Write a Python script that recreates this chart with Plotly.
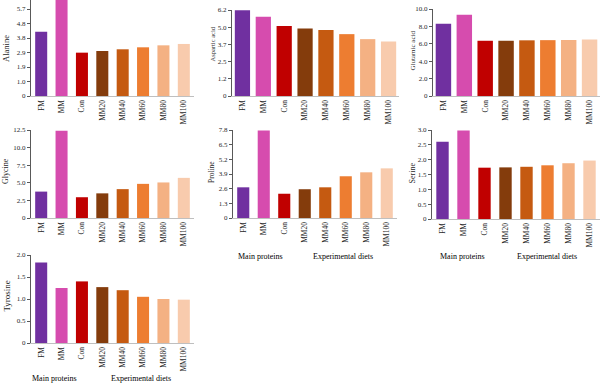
import plotly.graph_objects as go

categories = ["FM", "MM", "Con", "MM20", "MM40", "MM60", "MM80", "MM100"]
bar_colors = ["#7030A0", "#D64CAE", "#C00000", "#843C0C", "#C55A11", "#ED7D31", "#F4B183", "#F8CBAD"]

alanine = [4.21, 6.6, 2.84, 2.95, 3.06, 3.19, 3.32, 3.41]
aspartic = [6.18, 5.72, 5.05, 4.86, 4.76, 4.46, 4.1, 3.93]
glutamic = [8.3, 9.35, 6.35, 6.35, 6.4, 6.42, 6.45, 6.5]
glycine = [3.75, 12.4, 2.95, 3.5, 4.1, 4.85, 5.05, 5.7]
proline = [2.72, 7.75, 2.15, 2.55, 2.72, 3.7, 4.05, 4.4]
serine = [2.6, 2.98, 1.73, 1.74, 1.76, 1.81, 1.88, 1.97]
tyrosine = [1.83, 1.25, 1.4, 1.27, 1.2, 1.05, 1.0, 0.985]

names = ["Alanine", "Aspartic acid", "Glutamic acid", "Glycine", "Proline", "Serine", "Tyrosine"]
series = [alanine, aspartic, glutamic, glycine, proline, serine, tyrosine]

ala_ticks = [0, 0.95, 1.9, 2.85, 3.8, 4.75, 5.7]
ala_text = ["0", "1.0", "1.9", "2.9", "3.8", "4.8", "5.7"]
asp_ticks = [0, 1.24, 2.48, 3.72, 4.96, 6.2]
asp_text = ["0", "1.2", "2.5", "3.7", "5.0", "6.2"]
glu_ticks = [0, 2, 4, 6, 8, 10]
glu_text = ["0", "2.0", "4.0", "6.0", "8.0", "10.0"]
gly_ticks = [0, 2.5, 5, 7.5, 10, 12.5]
gly_text = ["0", "2.5", "5.0", "7.5", "10.0", "12.5"]
pro_ticks = [0, 1.3, 2.6, 3.9, 5.2, 6.5, 7.8]
pro_text = ["0", "1.3", "2.6", "3.9", "5.2", "6.5", "7.8"]
ser_ticks = [0, 0.5, 1.0, 1.5, 2.0, 2.5, 3.0]
ser_text = ["0", "0.5", "1.0", "1.5", "2.0", "2.5", "3.0"]
tyr_ticks = [0, 0.5, 1.0, 1.5, 2.0]
tyr_text = ["0", "0.5", "1.0", "1.5", "2.0"]

group_names = ["Main proteins", "Experimental diets"]

W, H = 600, 384
FONT = "Liberation Serif"
TXT = "#1f1f1f"

def fx(px):
    return px / W

def fy(py):
    return 1 - py / H

# panel geometry in pixels: (x0, x1, y_zero, y_top, range_max, bargap, ticks)
panels = [
    (31, 194, 96, 0, 6.29, 0.41, ala_ticks, ala_text),
    (232, 399, 96, 10, 6.2, 0.27, asp_ticks, asp_text),
    (433, 600, 96, 9, 10.0, 0.26, glu_ticks, glu_text),
    (31, 194, 218, 130, 12.5, 0.41, gly_ticks, gly_text),
    (233, 397, 218, 130, 7.8, 0.41, pro_ticks, pro_text),
    (432, 600, 219, 130, 3.0, 0.41, ser_ticks, ser_text),
    (31, 194, 343, 255, 2.0, 0.41, tyr_ticks, tyr_text),
]

fig = go.Figure()
layout = dict(
    template="none",
    width=W, height=H, margin=dict(l=0, r=0, t=0, b=0, autoexpand=False),
    paper_bgcolor="white", plot_bgcolor="white", showlegend=False,
    font=dict(family=FONT, size=7, color=TXT),
)

for i, (vals, p) in enumerate(zip(series, panels)):
    x0, x1, yz, yt, rmax, gap, tv, tt = p
    k = "" if i == 0 else str(i + 1)
    fig.add_trace(go.Bar(
        x=categories, y=vals, marker=dict(color=bar_colors, line=dict(width=0)),
        width=1 - gap, xaxis="x" + k, yaxis="y" + k, cliponaxis=True,
    ))
    layout["xaxis" + k] = dict(
        domain=[fx(x0), fx(x1)], anchor="y" + k, type="category",
        tickangle=-90, showline=True, linecolor="#bfbfbf", linewidth=1,
        ticks="", showgrid=False, zeroline=False,
        tickfont=dict(family=FONT, size=7.5, color=TXT),
        fixedrange=True, automargin=False,
    )
    layout["yaxis" + k] = dict(
        domain=[fy(yz), fy(yt)], anchor="x" + k, range=[0, rmax],
        tickvals=tv, ticktext=tt, showline=True, linecolor="#595959", linewidth=1,
        ticks="outside", ticklen=3, tickcolor="#595959", showgrid=False,
        zeroline=False, tickfont=dict(family=FONT, size=7, color=TXT),
        fixedrange=True, automargin=False,
    )

fig.update_layout(**layout)

# axis titles
titles = [
    ("Alanine", 6, 49, 8.5),
    ("Aspartic acid", 211.5, 44, 6.5),
    ("Glutamic acid", 412.5, 51, 7),
    ("Glycine", 5, 171, 8),
    ("Proline", 211, 172, 7.5),
    ("Serine", 412.5, 173, 8),
    ("Tyrosine", 6.5, 296, 9),
]
for t, x, y, s in titles:
    fig.add_annotation(text=t, x=fx(x), y=fy(y), xref="paper", yref="paper",
                       textangle=-90, showarrow=False, xanchor="center", yanchor="middle",
                       font=dict(family=FONT, size=s, color=TXT))

group_pos = [((260, 256), (343, 256)), ((462, 256), (547, 256)), ((55, 378), (141, 378))]
for pair in group_pos:
    for name, (x, y) in zip(group_names, pair):
        fig.add_annotation(text=name, x=fx(x), y=fy(y), xref="paper", yref="paper",
                           showarrow=False, xanchor="center", yanchor="middle",
                           font=dict(family=FONT, size=8, color="black"))

fig.write_html(
    "out.html",
    config={"displayModeBar": False},
    post_script="document.body.style.margin='0';document.body.style.overflow='hidden';",
)
